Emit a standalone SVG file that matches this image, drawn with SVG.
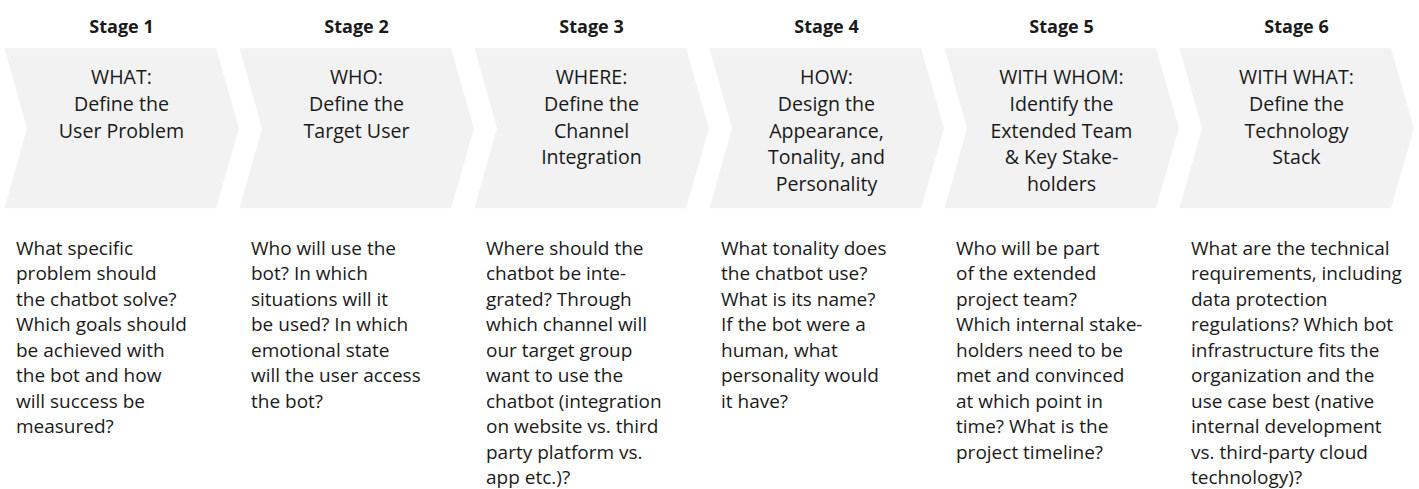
<svg xmlns="http://www.w3.org/2000/svg" width="1419" height="489" viewBox="0 0 1419 489">
<style>
.chev{fill:#f2f2f2}
.stage{font-family:"Open Sans","Noto Sans",sans-serif;font-weight:bold;font-size:18px;fill:#1a1a1a;text-anchor:middle}
.title{font-family:"Open Sans","Noto Sans",sans-serif;font-size:19.6px;fill:#1a1a1a;text-anchor:middle}
.body{font-family:"Open Sans","Noto Sans",sans-serif;font-size:19px;fill:#1a1a1a}
</style>
<defs>
<polygon id="chevron" class="chev" points="0,48.3 211.5,48.3 234.5,128.3 211.5,208.3 0,208.3 22.5,128.3"/>
</defs>
<rect width="1419" height="489" fill="#ffffff"/>
<g id="connectors"></g>

<g id="stage1">
<use href="#chevron" x="4.5"/>
<text class="stage" x="121.5" y="33">Stage 1</text>
<text class="title" x="121.5" y="84.2">WHAT:<tspan x="121.5" dy="26.7">Define the</tspan><tspan x="121.5" dy="26.7">User Problem</tspan></text>
<text class="body" x="16" y="254.5">What specific<tspan x="16" dy="25.5">problem should</tspan><tspan x="16" dy="25.5">the chatbot solve?</tspan><tspan x="16" dy="25.5">Which goals should</tspan><tspan x="16" dy="25.5">be achieved with</tspan><tspan x="16" dy="25.5">the bot and how</tspan><tspan x="16" dy="25.5">will success be</tspan><tspan x="16" dy="25.5">measured?</tspan></text>
</g>

<g id="stage2">
<use href="#chevron" x="239.5"/>
<text class="stage" x="356.5" y="33">Stage 2</text>
<text class="title" x="356.5" y="84.2">WHO:<tspan x="356.5" dy="26.7">Define the</tspan><tspan x="356.5" dy="26.7">Target User</tspan></text>
<text class="body" x="251" y="254.5">Who will use the<tspan x="251" dy="25.5">bot? In which</tspan><tspan x="251" dy="25.5">situations will it</tspan><tspan x="251" dy="25.5">be used? In which</tspan><tspan x="251" dy="25.5">emotional state</tspan><tspan x="251" dy="25.5">will the user access</tspan><tspan x="251" dy="25.5">the bot?</tspan></text>
</g>

<g id="stage3">
<use href="#chevron" x="474.5"/>
<text class="stage" x="591.5" y="33">Stage 3</text>
<text class="title" x="591.5" y="84.2">WHERE:<tspan x="591.5" dy="26.7">Define the</tspan><tspan x="591.5" dy="26.7">Channel</tspan><tspan x="591.5" dy="26.7">Integration</tspan></text>
<text class="body" x="486" y="254.5">Where should the<tspan x="486" dy="25.5">chatbot be inte-</tspan><tspan x="486" dy="25.5">grated? Through</tspan><tspan x="486" dy="25.5">which channel will</tspan><tspan x="486" dy="25.5">our target group</tspan><tspan x="486" dy="25.5">want to use the</tspan><tspan x="486" dy="25.5">chatbot (integration</tspan><tspan x="486" dy="25.5">on website vs. third</tspan><tspan x="486" dy="25.5">party platform vs.</tspan><tspan x="486" dy="25.5">app etc.)?</tspan></text>
</g>

<g id="stage4">
<use href="#chevron" x="709.5"/>
<text class="stage" x="826.5" y="33">Stage 4</text>
<text class="title" x="826.5" y="84.2">HOW:<tspan x="826.5" dy="26.7">Design the</tspan><tspan x="826.5" dy="26.7">Appearance,</tspan><tspan x="826.5" dy="26.7">Tonality, and</tspan><tspan x="826.5" dy="26.7">Personality</tspan></text>
<text class="body" x="721" y="254.5">What tonality does<tspan x="721" dy="25.5">the chatbot use?</tspan><tspan x="721" dy="25.5">What is its name?</tspan><tspan x="721" dy="25.5">If the bot were a</tspan><tspan x="721" dy="25.5">human, what</tspan><tspan x="721" dy="25.5">personality would</tspan><tspan x="721" dy="25.5">it have?</tspan></text>
</g>

<g id="stage5">
<use href="#chevron" x="944.5"/>
<text class="stage" x="1061.5" y="33">Stage 5</text>
<text class="title" x="1061.5" y="84.2">WITH WHOM:<tspan x="1061.5" dy="26.7">Identify the</tspan><tspan x="1061.5" dy="26.7">Extended Team</tspan><tspan x="1061.5" dy="26.7">&amp; Key Stake-</tspan><tspan x="1061.5" dy="26.7">holders</tspan></text>
<text class="body" x="956" y="254.5">Who will be part<tspan x="956" dy="25.5">of the extended</tspan><tspan x="956" dy="25.5">project team?</tspan><tspan x="956" dy="25.5">Which internal stake-</tspan><tspan x="956" dy="25.5">holders need to be</tspan><tspan x="956" dy="25.5">met and convinced</tspan><tspan x="956" dy="25.5">at which point in</tspan><tspan x="956" dy="25.5">time? What is the</tspan><tspan x="956" dy="25.5">project timeline?</tspan></text>
</g>

<g id="stage6">
<use href="#chevron" x="1179.5"/>
<text class="stage" x="1296.5" y="33">Stage 6</text>
<text class="title" x="1296.5" y="84.2">WITH WHAT:<tspan x="1296.5" dy="26.7">Define the</tspan><tspan x="1296.5" dy="26.7">Technology</tspan><tspan x="1296.5" dy="26.7">Stack</tspan></text>
<text class="body" x="1191" y="254.5">What are the technical<tspan x="1191" dy="25.5">requirements, including</tspan><tspan x="1191" dy="25.5">data protection</tspan><tspan x="1191" dy="25.5">regulations? Which bot</tspan><tspan x="1191" dy="25.5">infrastructure fits the</tspan><tspan x="1191" dy="25.5">organization and the</tspan><tspan x="1191" dy="25.5">use case best (native</tspan><tspan x="1191" dy="25.5">internal development</tspan><tspan x="1191" dy="25.5">vs. third-party cloud</tspan><tspan x="1191" dy="25.5">technology)?</tspan></text>
</g>
</svg>
